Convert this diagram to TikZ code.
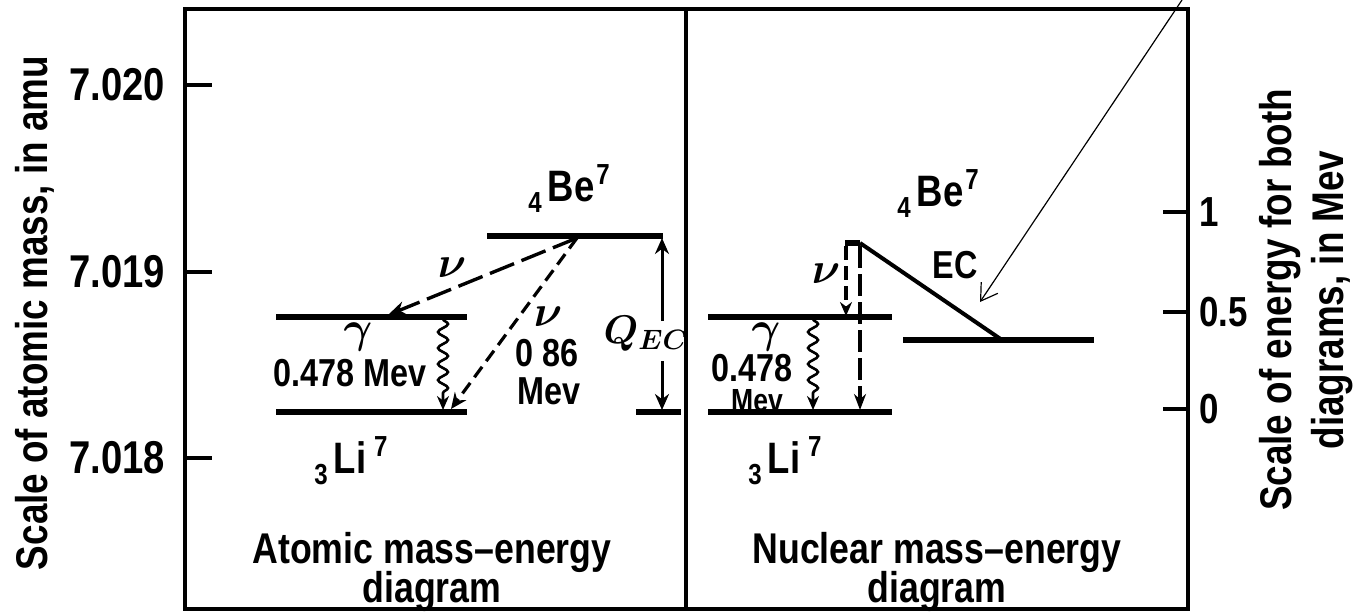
\RequirePackage{fix-cm}
\documentclass[tikz,border=0pt]{standalone}
\usepackage{fontspec}
\setmainfont{Liberation Sans}[FakeStretch=0.83]
\usetikzlibrary{arrows.meta,decorations.pathmorphing}
\newcommand\fs[1]{\fontsize{#1}{#1}\selectfont\bfseries}
\newcommand\nucl[3]{\raisebox{-5.5pt}{\fs{14.5}#1}\hspace{3pt}#2\hspace{1pt}\raisebox{8.5pt}{\fs{14.5}#3}}
\begin{document}
\begin{tikzpicture}[x=0.5pt,y=-0.5pt,
  every node/.style={inner sep=0pt,outer sep=0pt},
  frame/.style={line width=2pt},
  tickmark/.style={line width=1.8pt},
  level/.style={line width=3.4pt},
  thinlevel/.style={line width=2.6pt},
  ecline/.style={line width=2pt},
  nuA/.style={line width=1.7pt,dash pattern=on 13pt off 4pt,-{Stealth[length=9pt,width=7pt]}},
  nuB/.style={line width=1.6pt,dash pattern=on 6.5pt off 3.5pt,-{Stealth[length=8pt,width=7pt]}},
  nuC/.style={line width=1.6pt,dash pattern=on 7pt off 3pt,-{Stealth[length=7pt,width=6pt]}},
  nuD/.style={line width=1.6pt,dash pattern=on 11pt off 3pt,-{Stealth[length=8pt,width=6pt]}},
  qarrow/.style={line width=1.5pt,-{Stealth[length=8pt,width=7pt]}},
  gam/.style={line width=1.3pt,decorate,decoration={snake,amplitude=2.5pt,segment length=8pt,post length=6pt},-{Stealth[length=7pt,width=6pt]}},
  pointer/.style={line width=0.6pt,-{Straight Barb[length=8pt,width=10pt,line width=0.6pt]}},
  ticklab/.style={font=\fs{23}},
  rticklab/.style={font=\fs{21},anchor=west},
  lab/.style={font=\fs{19.5}},
  caption/.style={font=\fs{21.5},anchor=base},
  nuc/.style={font=\fs{22}},
  greek/.style={font=\fs{22}\boldmath},
]
\useasboundingbox (0,0) rectangle (1356,616);

% frame
\coordinate (fTL) at (185,9);
\coordinate (fBR) at (1188,609);
\coordinate (dT) at (686,9);
\coordinate (dB) at (686,609);
\draw[frame] (fTL) rectangle (fBR);
\draw[frame] (dT) -- (dB);

% left axis
\foreach \y/\t [count=\i] in {85/7.020,272/7.019,458/7.018}{
  \coordinate (lta\i) at (185,\y);
  \coordinate (ltb\i) at (212,\y);
  \draw[tickmark] (lta\i) -- (ltb\i);
  \node[ticklab] (ltl\i) at (117,\y) {\t};
}
\node[rotate=90,font=\fs{22.2}] (ylab) at (35,313) {Scale of atomic mass, in amu};

% right axis
\foreach \y/\t [count=\i] in {212/1,312/0.5,409/0}{
  \coordinate (rta\i) at (1163,\y);
  \coordinate (rtb\i) at (1189,\y);
  \draw[tickmark] (rta\i) -- (rtb\i);
  \node[rticklab] (rtl\i) at (1199,\y) {\t};
}
\node[rotate=90,align=center,font=\fontsize{22.2}{26}\selectfont\bfseries] (y2lab) at (1306,300)
  {Scale of energy for both\\diagrams, in Mev};

% ---------- atomic diagram ----------
\coordinate (aBe1) at (487,236);
\coordinate (aBe2) at (663,236);
\coordinate (aLx1) at (276,317);
\coordinate (aLx2) at (467,317);
\coordinate (aLg1) at (276,412);
\coordinate (aLg2) at (467,412);
\coordinate (aQb1) at (636,412);
\coordinate (aQb2) at (681,412);
\draw[level] (aBe1) -- (aBe2);
\draw[level] (aLx1) -- (aLx2);
\draw[level] (aLg1) -- (aLg2);
\draw[thinlevel] (aQb1) -- (aQb2);

\coordinate (aNu) at (577,238);
\coordinate (aNu1) at (388,315);
\coordinate (aNu2) at (451,409);
\draw[nuA] (aNu) -- (aNu1);
\draw[nuB] (aNu) -- (aNu2);

\coordinate (aG1) at (443,319);
\coordinate (aG2) at (443,410);
\draw[gam] (aG1) -- (aG2);

\node[font=\fs{20}\boldmath] (qec) at (646,334) {$Q_{EC}$};
\coordinate (aQtop) at (662,238);
\coordinate (aQu) at (662,321);
\coordinate (aQd) at (662,361);
\coordinate (aQbot) at (662,410);
\draw[qarrow] (aQu) -- (aQtop);
\draw[qarrow] (aQd) -- (aQbot);

\node[nuc] (aBe) at (569,189) {\nucl{4}{Be}{7}};
\node[nuc] (aLi) at (351,461) {\nucl{3}{Li\hspace{3pt}}{7}};
\node[greek] (anu1) at (452,268) {$\nu$};
\node[greek] (anu2) at (548,317) {$\nu$};
\node[lab] (a086) at (547,353) {0 86};
\node[lab] (amev) at (549,391) {Mev};
\node[greek] (agam) at (358,337) {$\gamma$};
\node[lab] (a478) at (350,373) {0.478 Mev};
\node[caption] (capA1) at (432,563) {Atomic mass–energy};
\node[caption] (capA2) at (432,602) {diagram};

% ---------- nuclear diagram ----------
\coordinate (nLx1) at (708,317);
\coordinate (nLx2) at (892,317);
\coordinate (nLg1) at (708,412);
\coordinate (nLg2) at (892,412);
\coordinate (nBe1) at (845,243);
\coordinate (nBe2) at (860,243);
\coordinate (nEC) at (1002,340);
\coordinate (nL1) at (903,340);
\coordinate (nL2) at (1094,340);
\draw[level] (nLx1) -- (nLx2);
\draw[level] (nLg1) -- (nLg2);
\draw[thinlevel] (nBe1) -- (nBe2);
\draw[ecline] (nBe2) -- (nEC);
\draw[level] (nL1) -- (nL2);

\coordinate (nS1) at (846,246);
\coordinate (nS2) at (846,316);
\coordinate (nT1) at (860,246);
\coordinate (nT2) at (860,410);
\draw[nuC] (nS1) -- (nS2);
\draw[nuD] (nT1) -- (nT2);

\coordinate (nG1) at (813,319);
\coordinate (nG2) at (813,410);
\draw[gam] (nG1) -- (nG2);

\node[nuc] (nBe) at (938,194) {\nucl{4}{Be}{7}};
\node[nuc] (nLi) at (785,461) {\nucl{3}{Li\hspace{3pt}}{7}};
\node[greek] (nnu) at (826,274) {$\nu$};
\node[greek] (ngam) at (766,337) {$\gamma$};
\node[lab] (n478) at (752,368) {0.478};
\node[font=\fs{16}] (nmev) at (757,401) {Mev};
\node[lab] (nec) at (955,265) {EC};
\node[caption] (capN1) at (937,563) {Nuclear mass–energy};
\node[caption] (capN2) at (937,602) {diagram};

% pointer
\coordinate (pS) at (1182,0);
\coordinate (pE) at (980,302);
\draw[pointer] (pS) -- (pE);
\end{tikzpicture}
\end{document}
